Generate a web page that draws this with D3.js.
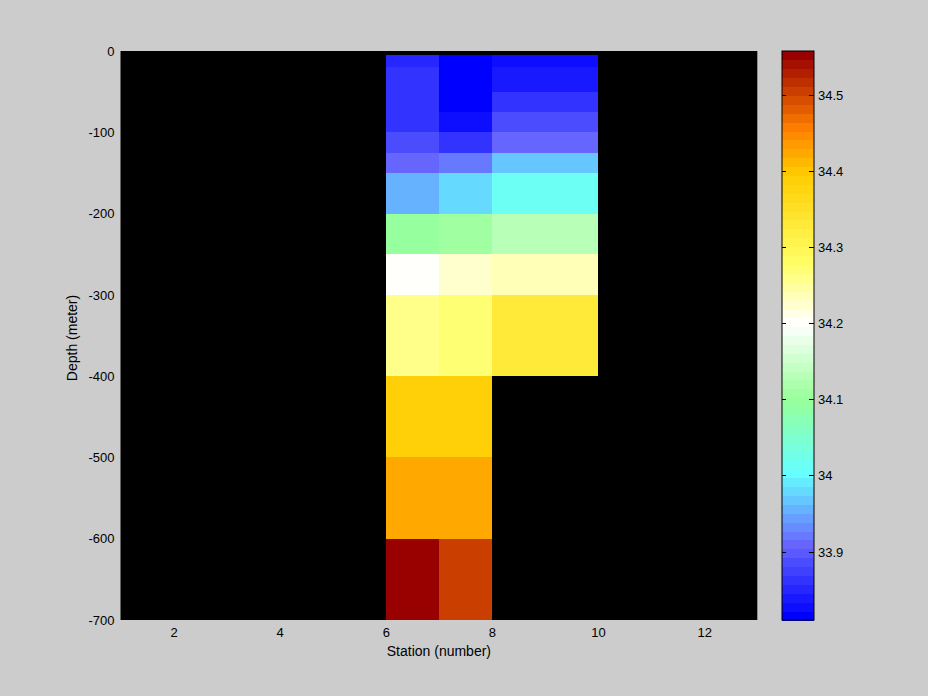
<!DOCTYPE html>
<html>
<head>
<meta charset="utf-8">
<script src="https://cdn.jsdelivr.net/npm/d3@7"></script>
<style>
  html, body { margin: 0; padding: 0; background: #cccccc; }
  svg { display: block; }
  text { font-family: "Liberation Sans", Arial, Helvetica, sans-serif; fill: #000; }
</style>
</head>
<body>
<svg id="chart" width="928" height="696"></svg>
<script>
// ---------------- data ----------------
const stationEdges = [6, 7, 8, 10];                     // column edges (station number)
const depthEdges = [-5, -20, -50, -75, -100, -125, -150, -200, -250, -300, -400, -500, -600, -700];
// salinity per depth layer (top to bottom) for each station column
const salinityStation6 = [33.851, 33.862, 33.862, 33.862, 33.886, 33.909, 33.956, 34.096, 34.200, 34.260, 34.388, 34.424, 34.552];
const salinityStation7 = [33.812, 33.812, 33.812, 33.828, 33.862, 33.920, 33.979, 34.108, 34.225, 34.271, 34.388, 34.424, 34.511];
const salinityStation8 = [33.828, 33.839, 33.862, 33.886, 33.909, 33.968, 34.015, 34.131, 34.236, 34.330, null, null, null];
const columns = [salinityStation6, salinityStation7, salinityStation8];

const xTicks = [2, 4, 6, 8, 10, 12];
const yTicks = [0, -100, -200, -300, -400, -500, -600, -700];
const cbTicks = [33.9, 34.0, 34.1, 34.2, 34.3, 34.4, 34.5];
const cbTickLabels = ["33.9", "34", "34.1", "34.2", "34.3", "34.4", "34.5"];
const colorRange = [33.81, 34.558];
const cmapStops = [33.81, 33.905, 34.0, 34.1, 34.2, 34.28, 34.4, 34.46, 34.558];
const cmapColors = ["#0000ff", "#6666ff", "#66ffff", "#99ff99", "#ffffff", "#ffff66", "#ffcc00", "#ff8000", "#990000"];
const nColors = 64;

// ---------------- layout ----------------
const svg = d3.select("#chart");
const plot = { left: 120.5, right: 757.3, top: 51, bottom: 620 };
const cb = { left: 782, right: 814, top: 51, bottom: 620 };

svg.append("rect").attr("width", 928).attr("height", 696).attr("fill", "#cccccc");

const x = d3.scaleLinear().domain([1, 13]).range([plot.left, plot.right]);
const y = d3.scaleLinear().domain([0, -700]).range([plot.top, plot.bottom]);

const interp = d3.scaleLinear().domain(cmapStops).range(cmapColors).interpolate(d3.interpolateRgb).clamp(true);
const palette = d3.range(nColors).map(k => interp(colorRange[0] + k / (nColors - 1) * (colorRange[1] - colorRange[0])));
const color = d3.scaleQuantize().domain(colorRange).range(palette);

// plot background
svg.append("rect")
  .attr("x", plot.left).attr("y", plot.top)
  .attr("width", plot.right - plot.left).attr("height", plot.bottom - plot.top)
  .attr("fill", "#000");

// cells
const cells = [];
columns.forEach((vals, ci) => {
  vals.forEach((v, ri) => {
    if (v === null) return;
    cells.push({ x0: stationEdges[ci], x1: stationEdges[ci + 1], d0: depthEdges[ri], d1: depthEdges[ri + 1], v });
  });
});
svg.append("g").selectAll("rect").data(cells).join("rect")
  .attr("x", d => x(d.x0))
  .attr("y", d => y(d.d0))
  .attr("width", d => x(d.x1) - x(d.x0))
  .attr("height", d => y(d.d1) - y(d.d0))
  .attr("fill", d => color(d.v))
  .attr("shape-rendering", "crispEdges");

// axes
const xAxis = svg.append("g").attr("transform", `translate(0,${plot.bottom})`)
  .call(d3.axisBottom(x).tickValues(xTicks).tickSize(0).tickPadding(8).tickFormat(d3.format("d")));
xAxis.select(".domain").remove();
xAxis.selectAll("text").style("font-size", "13px").style("font-family", "Liberation Sans, Arial, sans-serif");

const yAxis = svg.append("g").attr("transform", `translate(${plot.left},0)`)
  .call(d3.axisLeft(y).tickValues(yTicks).tickSize(0).tickPadding(6).tickFormat(d3.format("d")));
yAxis.select(".domain").remove();
yAxis.selectAll("text").style("font-size", "13px").style("font-family", "Liberation Sans, Arial, sans-serif")
  .text(d => d < 0 ? "-" + Math.abs(d) : d);

// axis titles
svg.append("text").attr("x", (plot.left + plot.right) / 2).attr("y", 656)
  .attr("text-anchor", "middle").style("font-size", "14px").text("Station (number)");
svg.append("text").attr("transform", `translate(77,338) rotate(-90)`)
  .attr("text-anchor", "middle").style("font-size", "14px").text("Depth (meter)");

// colorbar
const cy = d3.scaleLinear().domain(colorRange).range([cb.bottom, cb.top]);
const step = (colorRange[1] - colorRange[0]) / nColors;
svg.append("g").selectAll("rect").data(palette).join("rect")
  .attr("x", cb.left)
  .attr("y", (c, k) => cy(colorRange[0] + (k + 1) * step))
  .attr("width", cb.right - cb.left)
  .attr("height", (c, k) => cy(colorRange[0] + k * step) - cy(colorRange[0] + (k + 1) * step) + 0.5)
  .attr("fill", c => c)
  .attr("shape-rendering", "crispEdges");
svg.append("rect").attr("x", cb.left).attr("y", cb.top)
  .attr("width", cb.right - cb.left).attr("height", cb.bottom - cb.top)
  .attr("fill", "none").attr("stroke", "#000").attr("stroke-width", 1);

const cbg = svg.append("g");
cbTicks.forEach((t, i) => {
  const yy = Math.round(cy(t)) + 0.5;
  cbg.append("line").attr("x1", cb.left).attr("x2", cb.left + 4).attr("y1", yy).attr("y2", yy).attr("stroke", "#000");
  cbg.append("line").attr("x1", cb.right - 5).attr("x2", cb.right).attr("y1", yy).attr("y2", yy).attr("stroke", "#000");
  cbg.append("text").attr("x", cb.right + 4).attr("y", yy).attr("dy", "0.35em")
    .style("font-size", "13px").text(cbTickLabels[i]);
});
</script>
</body>
</html>
